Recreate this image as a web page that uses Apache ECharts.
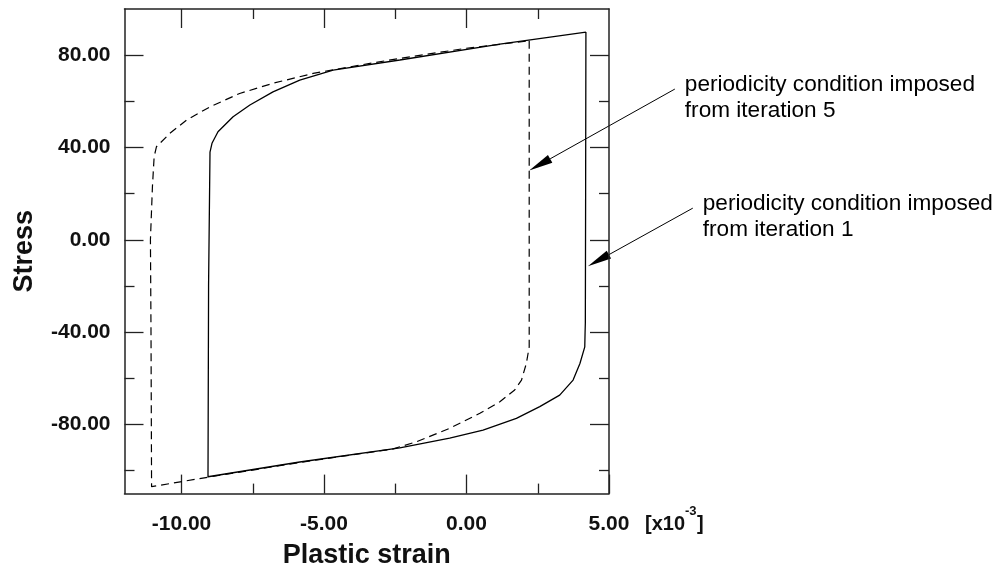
<!DOCTYPE html>
<html>
<head>
<meta charset="utf-8">
<title>Stress - plastic strain</title>
<script src="https://cdn.jsdelivr.net/npm/echarts@6/dist/echarts.min.js"></script>
<style>
html, body { margin: 0; padding: 0; background: #fff; }
#chart { width: 998px; height: 582px; }
</style>
</head>
<body>
<div id="chart"></div>
<script>
// periodicity condition imposed from iteration 1 (solid)
var iter1Strain = [4.19, 4.18, 4.17, 4.16, 4.15, 3.98, 3.74, 3.27, 2.57, 1.75, 0.58, -0.59, -2.34, -5.85, -9.07,
	-9.05, -9.0, -8.93, -8.72, -8.19, -7.6, -6.79, -5.85, -4.68, -2.34, 1.17, 4.19];
var iter1Stress = [90.0, 20.0, -36.0, -40.5, -46.4, -53.6, -60.8, -67.3, -72.3, -77.4, -82.5, -86.0, -90.2, -96.3, -102.7,
	-20.0, 38.0, 41.8, 46.8, 53.3, 58.4, 64.1, 69.2, 73.5, 77.9, 84.8, 90.0];

// periodicity condition imposed from iteration 5 (dashed)
var iter5Strain = [2.2, 2.2, 2.2, 2.1, 1.93, 1.69, 1.17, 0.47, -0.59, -1.75, -2.6, -5.85, -9.07, -11.05,
	-11.07, -11.09, -11.02, -10.96, -10.88, -10.41, -9.82, -9.0, -7.96, -6.79, -5.38, -3.74, -2.34, 0.0, 2.2];
var iter5Stress = [86.2, 30.0, -46.4, -53.6, -60.8, -65.1, -70.2, -75.2, -81.7, -87.5, -90.7, -96.5, -102.9, -107.0,
	-40.0, 0.0, 23.0, 36.0, 40.3, 46.1, 51.9, 57.6, 63.4, 67.8, 72.1, 75.7, 78.6, 83.0, 86.2];

// ticks
var xMajor = [-10, -5, 0, 5];
var xMinor = [-7.5, -2.5, 2.5];
var yMajor = [-80, -40, 0, 40, 80];
var yMinor = [-100, -60, -20, 20, 60];

function pairs(xs, ys) {
	var out = [];
	for (var i = 0; i < xs.length; i++) out.push([xs[i], ys[i]]);
	return out;
}

var FONT = '"Liberation Sans", Arial, Helvetica, sans-serif';
var INK = '#111';

function axis(pos, minV, maxV, ticks, len, withLine, withLabels) {
	var a = {
		type: 'value',
		position: pos,
		min: minV,
		max: maxV,
		splitLine: { show: false },
		axisLine: { show: withLine, onZero: false, lineStyle: { color: '#222', width: 1.5 } },
		axisTick: { show: true, inside: true, length: len, customValues: ticks, lineStyle: { color: '#222', width: 1.3 } },
		axisLabel: { show: false }
	};
	if (withLabels) {
		a.axisLabel = {
			show: true,
			customValues: ticks,
			showMinLabel: true,
			showMaxLabel: true,
			color: INK,
			fontFamily: FONT,
			fontWeight: 'bold',
			fontSize: 21,
			formatter: function(v) { return v.toFixed(2); }
		};
	}
	return a;
}

window.onload = function() {
	var chart = echarts.init(document.getElementById('chart'));

	var xBottom = axis('bottom', -12, 5, xMajor, 19, true, true);
	xBottom.axisLabel.margin = 20;
	xBottom.name = 'Plastic strain';
	xBottom.nameLocation = 'middle';
	xBottom.nameGap = 48;
	xBottom.nameTextStyle = { color: INK, fontFamily: FONT, fontWeight: 'bold', fontSize: 27 };

	var yLeft = axis('left', -110, 100, yMajor, 19, true, true);
	yLeft.axisLabel.margin = 14;
	yLeft.name = 'Stress';
	yLeft.nameLocation = 'middle';
	yLeft.nameGap = 86;
	yLeft.nameTextStyle = { color: INK, fontFamily: FONT, fontWeight: 'bold', fontSize: 27 };

	var option = {
		animation: false,
		backgroundColor: '#fff',
		grid: { left: 124.5, top: 9, width: 484.5, height: 484.6, containLabel: false },
		xAxis: [
			xBottom,
			axis('bottom', -12, 5, xMinor, 10, false, false),
			axis('top', -12, 5, xMajor.slice(0, 3), 19, true, false),
			axis('top', -12, 5, xMinor, 10, false, false)
		],
		yAxis: [
			yLeft,
			axis('left', -110, 100, yMinor, 10, false, false),
			axis('right', -110, 100, yMajor, 19, true, false),
			axis('right', -110, 100, yMinor, 10, false, false)
		],
		series: [
			{
				name: 'iteration 1',
				type: 'line',
				xAxisIndex: 0,
				yAxisIndex: 0,
				showSymbol: false,
				data: pairs(iter1Strain, iter1Stress),
				lineStyle: { color: '#000', width: 1.3 }
			},
			{
				name: 'iteration 5',
				type: 'line',
				xAxisIndex: 0,
				yAxisIndex: 0,
				showSymbol: false,
				data: pairs(iter5Strain, iter5Stress),
				lineStyle: { color: '#000', width: 1.2, type: [8, 5] }
			}
		]
	};
	chart.setOption(option);

	// annotations: arrow tips and tails in data units
	var notes = [
		{ text: 'periodicity condition imposed\nfrom iteration 5', tip: [2.2, 30], tail: [7.31, 65.3] },
		{ text: 'periodicity condition imposed\nfrom iteration 1', tip: [4.26, -11.5], tail: [7.94, 13.7] }
	];
	var toPx = function(p) { return chart.convertToPixel({ xAxisIndex: 0, yAxisIndex: 0 }, p); };
	var graphics = [];
	notes.forEach(function(n) {
		var tip = toPx(n.tip), tail = toPx(n.tail);
		var dx = tail[0] - tip[0], dy = tail[1] - tip[1];
		var L = Math.sqrt(dx * dx + dy * dy), ux = dx / L, uy = dy / L;
		var bx = tip[0] + ux * 24, by = tip[1] + uy * 24;
		var px = -uy * 4.5, py = ux * 4.5;
		graphics.push({ type: 'line', shape: { x1: tail[0], y1: tail[1], x2: bx, y2: by }, style: { stroke: '#000', lineWidth: 1 } });
		graphics.push({ type: 'polygon', shape: { points: [tip, [bx + px, by + py], [bx - px, by - py]] }, style: { fill: '#000' } });
		graphics.push({
			type: 'text', x: tail[0] + 10, y: tail[1] - 17,
			style: { text: n.text, fill: '#000', fontFamily: FONT, fontSize: 22.6, lineHeight: 26, align: 'left', verticalAlign: 'top' }
		});
	});

	// unit label [x10^-3] after the last x tick label
	var end = toPx([5, -110]);
	var unitY = end[1] + 31;
	graphics.push({ type: 'text', x: end[0] + 36, y: unitY, style: { text: '[x10', fill: INK, fontFamily: FONT, fontWeight: 'bold', fontSize: 20, verticalAlign: 'middle' } });
	graphics.push({ type: 'text', x: end[0] + 76, y: unitY - 13, style: { text: '-3', fill: INK, fontFamily: FONT, fontWeight: 'bold', fontSize: 13, verticalAlign: 'middle' } });
	graphics.push({ type: 'text', x: end[0] + 88, y: unitY, style: { text: ']', fill: INK, fontFamily: FONT, fontWeight: 'bold', fontSize: 20, verticalAlign: 'middle' } });

	chart.setOption({ graphic: graphics });
};
</script>
</body>
</html>
